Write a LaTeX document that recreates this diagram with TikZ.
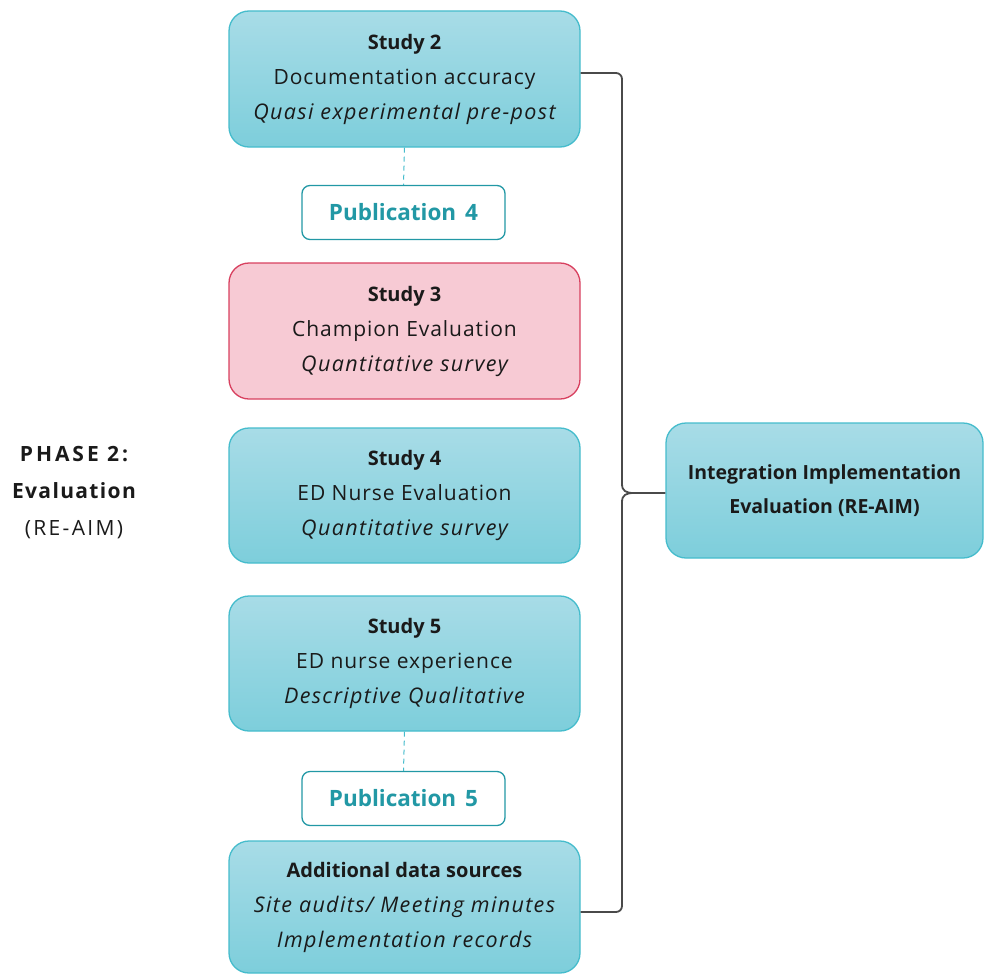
\documentclass[tikz,border=0pt]{standalone}
\usepackage{fontspec}
\setmainfont{Open Sans}
\newfontfamily\regsp[LetterSpace=4.5]{Open Sans}
\newfontfamily\itsp[LetterSpace=6.3]{Open Sans}
\newfontfamily\phsp[LetterSpace=14]{Open Sans}
\newfontfamily\evsp[LetterSpace=6.5]{Open Sans}
\newfontfamily\rasp[LetterSpace=11]{Open Sans}
\usetikzlibrary{positioning}
\definecolor{boxtop}{HTML}{A8DCE7}
\definecolor{boxbot}{HTML}{7DCEDB}
\definecolor{boxline}{HTML}{45BCCC}
\definecolor{pinkfill}{HTML}{F7CAD4}
\definecolor{pinkline}{HTML}{D8405F}
\definecolor{pubteal}{HTML}{2298A5}
\definecolor{txt}{HTML}{1A1A1A}
\definecolor{bracec}{HTML}{4A4A4A}
\newcommand{\ttl}[1]{{\fontsize{20}{35}\selectfont\bfseries #1}}
\newcommand{\rgl}[1]{{\regsp\fontsize{21}{35}\selectfont #1}}
\newcommand{\itl}[1]{{\itsp\itshape\fontsize{21.5}{35}\selectfont #1}}
\tikzset{
  studybox/.style={draw=boxline, line width=1.3pt, rounded corners=20pt,
    top color=boxtop, bottom color=boxbot, minimum width=351pt, align=center,
    text=txt, inner sep=0pt, font=\fontsize{20}{35}\selectfont},
  pinkbox/.style={studybox, top color=pinkfill, bottom color=pinkfill, draw=pinkline},
  pubbox/.style={draw=pubteal, line width=1.3pt, rounded corners=8pt, fill=white,
    minimum width=203pt, minimum height=54pt, text=pubteal, inner sep=0pt,
    font=\fontsize{22.5}{26}\selectfont\bfseries},
  dashlink/.style={draw=boxline, line width=1pt, dash pattern=on 5pt off 4pt},
  bracel/.style={draw=bracec, line width=1.8pt, rounded corners=6pt},
}
\begin{document}
\begin{tikzpicture}[x=1pt,y=-1pt]
\useasboundingbox (0,0) rectangle (984,974);
\node[studybox, minimum height=136pt] (s2) at (404.5,79)
  {\ttl{Study 2}\\\rgl{Documentation accuracy}\\\itl{Quasi experimental pre-post}};
\node[pubbox] (p4) at (403.5,212.5) {Publication\hspace{0.4em}4};
\node[pinkbox, minimum height=136pt] (s3) at (404.5,331)
  {\ttl{Study 3}\\\rgl{Champion Evaluation}\\\itl{Quantitative survey}};
\node[studybox, minimum height=135pt] (s4) at (404.5,495.5)
  {\ttl{Study 4}\\\rgl{ED Nurse Evaluation}\\\itl{Quantitative survey}};
\node[studybox, minimum height=135pt] (s5) at (404.5,663.5)
  {\ttl{Study 5}\\\rgl{ED nurse experience}\\\itl{Descriptive Qualitative}};
\node[pubbox] (p5) at (403.5,798.5) {Publication\hspace{0.4em}5};
\node[studybox, minimum height=132pt] (ad) at (404.5,907)
  {\ttl{Additional data sources}\\\itl{Site audits/ Meeting minutes}\\\itl{Implementation records}};
\node[studybox, minimum width=317pt, minimum height=135pt,
  font=\fontsize{19.5}{34}\selectfont\bfseries] (ri) at (824.5,490.5)
  {Integration Implementation\\Evaluation (RE-AIM)};
\node[align=center, text=txt, font=\fontsize{21}{37}\selectfont] (ph) at (74,492.5)
  {{\phsp\bfseries PHASE 2:}\\{\evsp\bfseries Evaluation}\\{\rasp (RE-AIM)}};
\draw[dashlink] (s2.south) -- (p4.north);
\draw[dashlink] (s5.south) -- (p5.north);
\coordinate (tip) at (634,493);
\coordinate (bt) at (622,73);
\coordinate (bb) at (622,912);
\draw[bracel] (s2.east |- bt) -- (bt) -- (622,484);
\draw[draw=bracec, line width=1.8pt] (622,484) .. controls (622,491) and (626,493) .. (tip)
  -- (ri.west |- tip);
\draw[draw=bracec, line width=1.8pt] (622,502) .. controls (622,495) and (626,493) .. (tip);
\draw[bracel] (622,502) -- (bb) -- (ad.east |- bb);
\end{tikzpicture}
\end{document}
